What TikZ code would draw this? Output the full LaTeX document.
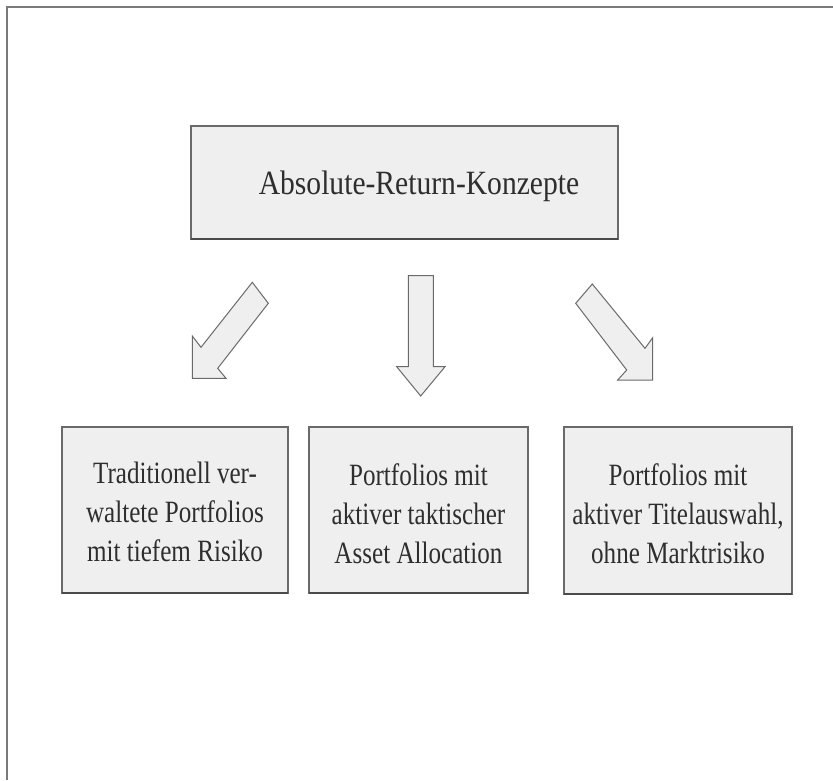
\documentclass[tikz,border=0pt]{standalone}
\usepackage{fontspec}
\setmainfont{Liberation Serif}
\newfontfamily\titlefont[FakeStretch=0.87]{Liberation Serif}
\newfontfamily\boxfont[FakeStretch=0.81]{Liberation Serif}
\definecolor{boxfill}{HTML}{EFEFEF}
\definecolor{boxline}{HTML}{6A6A6A}
\definecolor{boxdark}{HTML}{4A4A4A}
\definecolor{txt}{HTML}{2E2E2E}
\definecolor{framecol}{HTML}{7A7A7A}
\begin{document}
\begin{tikzpicture}[x=1pt,y=-1pt,
  boxstyle/.style={draw=boxline,fill=boxfill,line width=1.3pt},
  boxbottom/.style={draw=boxdark,line width=1.6pt},
  arrowshape/.style={draw=boxline,fill=boxfill,line width=1pt,line join=miter},
  label/.style={text=txt,align=center,inner sep=0pt}]
\useasboundingbox (0,0) rectangle (833,780);
% outer frame (top and left visible)
\draw[framecol,line width=2pt] (7,780) -- (7,7) -- (833,7);
% title box
\draw[boxstyle] (191,126) rectangle (618,239);
\draw[boxbottom] (191,239) -- (618,239);
\node[label,font=\titlefont\fontsize{34}{40}\selectfont] (title) at (419,186) {Absolute-Return-Konzepte};
% bottom boxes
\draw[boxstyle] (62,427) rectangle (288,593);
\draw[boxbottom] (62,593) -- (288,593);
\draw[boxstyle] (309,427) rectangle (528,593);
\draw[boxbottom] (309,593) -- (528,593);
\draw[boxstyle] (564,427) rectangle (792,594);
\draw[boxbottom] (564,594) -- (792,594);
\node[label,font=\boxfont\fontsize{31}{39}\selectfont] (b1) at (175,512) {Traditionell ver-\\waltete Portfolios\\mit tiefem Risiko};
\node[label,font=\boxfont\fontsize{31}{39}\selectfont] (b2) at (418.5,514) {Portfolios mit\\aktiver taktischer\\Asset Allocation};
\node[label,font=\boxfont\fontsize{31}{39}\selectfont] (b3) at (678,514) {Portfolios mit\\aktiver Titelauswahl,\\ohne Marktrisiko};
% block arrows
\draw[arrowshape] (252.3,282.3) -- (268.3,303.3) -- (217.7,368.3) -- (226,378.3) -- (192.3,378.3) -- (192.3,336) -- (201,347.3) -- cycle;
\draw[arrowshape] (408.3,275.7) -- (433.3,275.7) -- (433.3,366.7) -- (445,366.7) -- (420.7,396) -- (396.7,366.7) -- (408.3,366.7) -- cycle;
\draw[arrowshape] (592.3,284) -- (575.7,303.3) -- (626.7,370) -- (617.7,380) -- (652.7,380) -- (652.7,337.7) -- (645,348.3) -- cycle;
\end{tikzpicture}
\end{document}
